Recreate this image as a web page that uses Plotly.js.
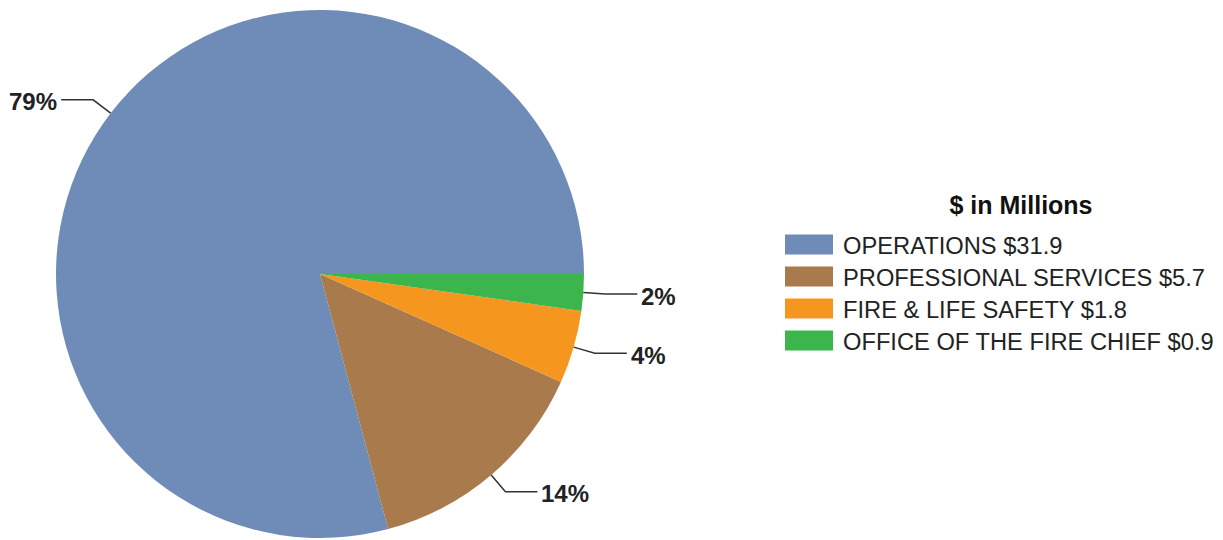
<!DOCTYPE html>
<html><head><meta charset="utf-8">
<script src="https://cdn.plot.ly/plotly-3.0.1.min.js"></script>
<style>html,body{margin:0;padding:0;background:#fff}#chart{width:1223px;height:540px}</style>
</head><body><div id="chart"></div>
<script>
const categories = ["OPERATIONS", "PROFESSIONAL SERVICES", "FIRE & LIFE SAFETY", "OFFICE OF THE FIRE CHIEF"];
const amounts = [31.9, 5.7, 1.8, 0.9];
const colors = ["#6F8CB8", "#A87A4C", "#F5961F", "#3BB54C"];
const legendTitle = "$ in Millions";

const W = 1223, H = 540;
const margin = {l: 0, r: 0, t: 10, b: 2, autoexpand: false};
const plotH = H - margin.t - margin.b;
const radius = plotH / 2;
const cx = 320, cy = margin.t + radius;
const domainX = [(cx - radius) / W, (cx + radius) / W];

const total = amounts.reduce((a, b) => a + b, 0);
const legendLabels = categories.map((c, i) => c + " $" + amounts[i].toFixed(1));

// leader lines and percent labels computed from the data
const shapes = [], annotations = [];
let cum = 0;
const toPX = px => px / W;
const toPY = py => 1 - (py - margin.t) / plotH;
amounts.forEach((v, i) => {
  const frac = v / total;
  const mid = (cum + frac / 2) * 2 * Math.PI; // counterclockwise from 3 o'clock
  cum += frac;
  const dx = Math.cos(mid), dy = -Math.sin(mid);
  const p = [cx + radius * dx, cy + radius * dy];
  const q = [cx + (radius + 22) * dx, cy + (radius + 22) * dy];
  const side = dx >= 0 ? 1 : -1;
  const r = [q[0] + side * 32, q[1]];
  shapes.push({type: "path", xref: "paper", yref: "paper",
    path: `M${toPX(p[0])},${toPY(p[1])} L${toPX(q[0])},${toPY(q[1])} L${toPX(r[0])},${toPY(r[1])}`,
    line: {color: "#333", width: 1.5}});
  annotations.push({xref: "paper", yref: "paper", x: toPX(r[0] + side * 2), y: toPY(r[1] + 2),
    xanchor: side > 0 ? "left" : "right", yanchor: "middle", showarrow: false,
    text: "<b>" + Math.round(frac * 100) + "%</b>",
    font: {family: "Liberation Sans, Arial, sans-serif", size: 24, color: "#222"}});
});

// Plotly's counterclockwise mode lays the first slice clockwise from `rotation`,
// so start it where the other slices end to have everything run counterclockwise from 3 o'clock.
const rotation = 90 + 360 * (1 - amounts[0] / total);

const data = [{
  type: "pie",
  labels: legendLabels,
  values: amounts,
  marker: {colors: colors, line: {width: 0}},
  sort: false,
  direction: "counterclockwise",
  rotation: rotation,
  textinfo: "none",
  hoverinfo: "label+percent",
  domain: {x: domainX, y: [0, 1]}
}];

const layout = {
  width: W, height: H,
  margin: margin,
  paper_bgcolor: "#fff",
  showlegend: true,
  legend: {
    x: 783 / W, xanchor: "left", y: toPY(186), yanchor: "top",
    itemwidth: 50,
    font: {family: "Liberation Sans, Arial, sans-serif", size: 23.7, color: "#222"},
    title: {text: "<b>" + legendTitle + "</b>", side: "top center",
      font: {family: "Liberation Sans, Arial, sans-serif", size: 25, color: "#111"}}
  },
  shapes: shapes,
  annotations: annotations
};

Plotly.newPlot("chart", data, layout, {displayModeBar: false, staticPlot: true}).then(gd => {
  gd.querySelectorAll(".legend .legendpoints path").forEach(p => {
    p.setAttribute("d", "M-28,-10H20V10H-28Z");
  });
  const items = gd.querySelectorAll(".legend .traces");
  let y0 = null;
  items.forEach((g, i) => {
    const m = /translate\(\s*([-\d.]+)[ ,]+([-\d.]+)\s*\)/.exec(g.getAttribute("transform") || "");
    if (!m) return;
    if (y0 === null) y0 = parseFloat(m[2]) + 4;
    g.setAttribute("transform", `translate(${m[1]},${y0 + i * 32})`);
  });
  const t = gd.querySelector(".legend .legendtitletext");
  if (t) t.setAttribute("transform", "translate(20,-5)");
});
</script>
</body></html>
